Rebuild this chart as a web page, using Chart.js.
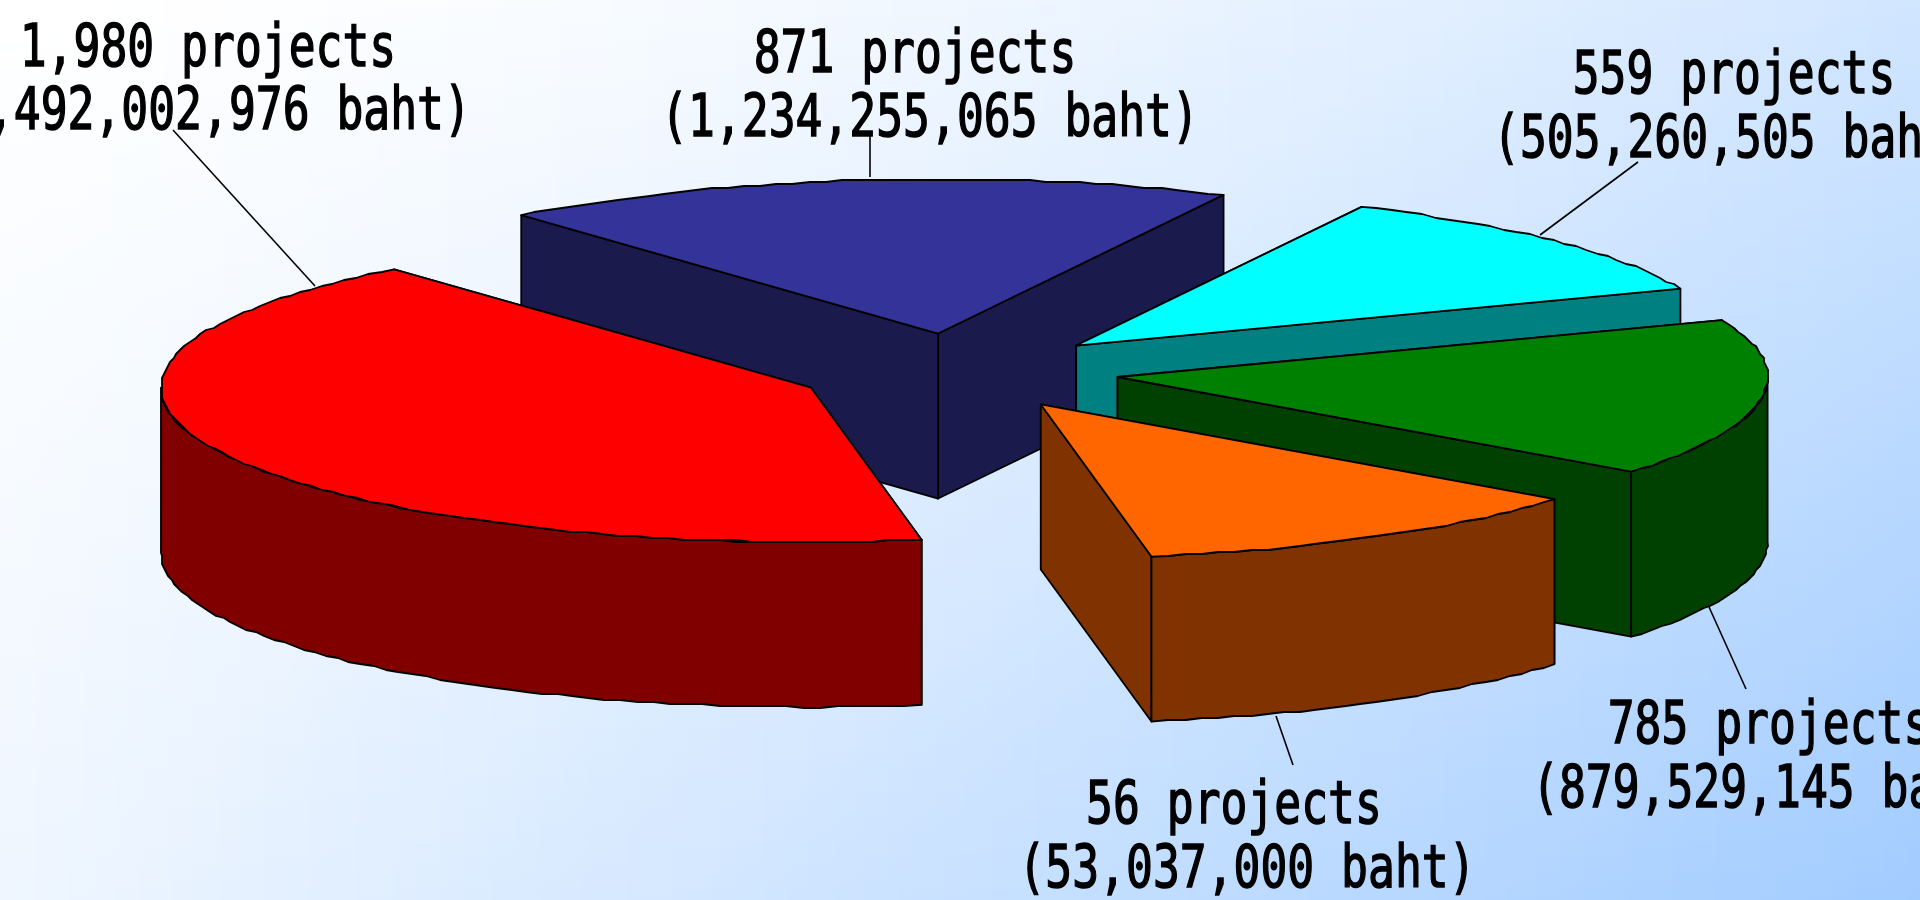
<!DOCTYPE html>
<html>
<head>
<meta charset="utf-8">
<title>Projects and budget</title>
<style>
  html, body { margin:0; padding:0; width:1920px; height:900px; overflow:hidden; background:#fff; }
  #wrap { width:1920px; height:900px; }
</style>
<script src="https://cdn.jsdelivr.net/npm/chart.js@4/dist/chart.umd.min.js"></script>
</head>
<body>
<div id="wrap"><canvas id="chart"></canvas></div>
<script>
// Data (the orange slice is drawn far bigger than its "56" label)
const categories = ["1,980 projects", "871 projects", "559 projects", "785 projects", "56 projects"];
const sliceValues = [1980, 871, 559, 785, 560];
const bahtLabels = ["(2,492,002,976 baht)", "(1,234,255,065 baht)", "(505,260,505 baht)", "(879,529,145 baht)", "(53,037,000 baht)"];
const topColors = ["#ff0000", "#333399", "#00ffff", "#008000", "#ff6600"];
const sideColors = ["#800000", "#1a1a4d", "#008080", "#004000", "#803300"];

// Layout of the 3D look
const CENTER_X = 957.6, CENTER_Y = 371.6;
const RADIUS_X = 650, RADIUS_Y = 154.3, DEPTH = 165;
const EXPLODE = 0.2486;               // share of the radius
const DRAW_ORDER = [1, 2, 3, 0, 4];   // back to front
const RIM_STEP = 1.5 * Math.PI / 180; // the rim in the original is a rough polygon
const RIM_GRID = 2;

// Label layout: [centre x line 1, baseline 1, centre x line 2, baseline 2]
const labelPos = [
  [208, 66, 202, 129],
  [915, 72, 930, 136],
  [1734, 93, 1735, 157],
  [1769, 743, 1774, 807],
  [1234, 823, 1247, 887]
];
// Leader lines: label end, slice end
const leaders = [
  [173, 130, 315, 286],
  [870, 135, 870, 177],
  [1638, 162, 1540, 235],
  [1746, 689, 1709, 607],
  [1293, 765, 1276, 716]
];

// Follow the rim from a0 to a1 with short snapped segments
function rimTo(ctx, ax, ay, a0, a1) {
  const n = Math.max(1, Math.round(Math.abs(a1 - a0) / RIM_STEP));
  for (let k = 0; k <= n; k++) {
    const a = a0 + (a1 - a0) * k / n;
    let px = ax + Math.cos(a) * RADIUS_X, py = ay + Math.sin(a) * RADIUS_Y;
    if (k > 0 && k < n) {
      px = Math.round(px / RIM_GRID) * RIM_GRID;
      py = Math.round(py / RIM_GRID) * RIM_GRID;
    }
    ctx.lineTo(px, py);
  }
}

function drawSlice(ctx, arc, i) {
  const {x, y, startAngle, endAngle, outerRadius} = arc.getProps(["x", "y", "startAngle", "endAngle", "outerRadius"], true);
  const mid = (startAngle + endAngle) / 2;
  const dx = Math.cos(mid) * EXPLODE * outerRadius;
  const dy = Math.sin(mid) * EXPLODE * outerRadius;
  const sx = RADIUS_X / outerRadius, sy = RADIUS_Y / outerRadius;
  const ax = CENTER_X + dx * sx, ay = CENTER_Y + dy * sy;

  ctx.lineWidth = 1.8;
  ctx.strokeStyle = "#000";
  ctx.lineJoin = "round";
  ctx.fillStyle = sideColors[i];

  // Straight walls, the one further back first
  const ends = [startAngle, endAngle].sort((a, b) => Math.sin(a) - Math.sin(b));
  ends.forEach(a => {
    const px = ax + Math.cos(a) * RADIUS_X, py = ay + Math.sin(a) * RADIUS_Y;
    ctx.beginPath();
    ctx.moveTo(ax, ay);
    ctx.lineTo(px, py);
    ctx.lineTo(px, py + DEPTH);
    ctx.lineTo(ax, ay + DEPTH);
    ctx.closePath();
    ctx.fill();
    ctx.stroke();
  });

  // Outer wall: only the part facing the viewer
  [0, 2 * Math.PI].forEach(k => {
    const a0 = Math.max(startAngle, k), a1 = Math.min(endAngle, k + Math.PI);
    if (a1 <= a0) return;
    ctx.beginPath();
    rimTo(ctx, ax, ay, a0, a1);
    rimTo(ctx, ax, ay + DEPTH, a1, a0);
    ctx.closePath();
    ctx.fill();
    ctx.stroke();
  });

  // Top face: the library's own arc, squashed, inside the rough rim
  const topPath = () => {
    ctx.beginPath();
    ctx.moveTo(ax, ay);
    rimTo(ctx, ax, ay, startAngle, endAngle);
    ctx.closePath();
  };
  ctx.save();
  topPath();
  ctx.fillStyle = topColors[i];
  ctx.fill();
  ctx.clip();
  ctx.translate(CENTER_X, CENTER_Y);
  ctx.scale(sx, sy);
  ctx.translate(dx - x, dy - y);
  arc.draw(ctx);
  ctx.restore();

  topPath();
  ctx.stroke();
}

function drawLabel(ctx, text, cx, baseline) {
  ctx.save();
  ctx.translate(cx, baseline);
  ctx.scale(0.757, 1);
  ctx.fillText(text, 0, 0);
  ctx.strokeText(text, 0, 0);
  ctx.restore();
}

// Background: white top left, light blue bottom right, pale along the left edge
function mixBlue(t) {
  return `rgb(${Math.round(255 - 93 * t)},${Math.round(255 - 51 * t)},255)`;
}

const pie3d = {
  id: "pie3d",
  beforeDraw(chart) {
    const ctx = chart.ctx, w = chart.width, h = chart.height;
    for (let px = 0; px < w; px += 4) {
      const u = (px + 2) / w;
      const g = ctx.createLinearGradient(0, 0, 0, h);
      g.addColorStop(0, mixBlue(0.5 * Math.pow(u, 1.6)));
      g.addColorStop(1, mixBlue(0.17 + 0.83 * u));
      ctx.fillStyle = g;
      ctx.fillRect(px, 0, 4, h);
    }
  },
  beforeDatasetsDraw(chart) {
    const ctx = chart.ctx;
    const arcs = chart.getDatasetMeta(0).data;
    ctx.save();
    DRAW_ORDER.forEach(i => drawSlice(ctx, arcs[i], i));
    ctx.restore();
    return false;
  },
  afterDraw(chart) {
    const ctx = chart.ctx;
    ctx.save();
    ctx.strokeStyle = "#000";
    ctx.lineWidth = 1.6;
    leaders.forEach(l => {
      ctx.beginPath();
      ctx.moveTo(l[0], l[1]);
      ctx.lineTo(l[2], l[3]);
      ctx.stroke();
    });
    ctx.font = '59px "DejaVu Sans Mono"';
    ctx.textAlign = "center";
    ctx.textBaseline = "alphabetic";
    ctx.fillStyle = "#000";
    ctx.lineWidth = 1.5;
    categories.forEach((c, i) => {
      const p = labelPos[i];
      drawLabel(ctx, c, p[0], p[1]);
      drawLabel(ctx, bahtLabels[i], p[2], p[3]);
    });
    ctx.restore();
  }
};

new Chart(document.getElementById("chart"), {
  type: "pie",
  data: {
    labels: categories,
    datasets: [{
      data: sliceValues,
      backgroundColor: topColors,
      borderWidth: 0
    }]
  },
  options: {
    responsive: true,
    maintainAspectRatio: false,
    animation: false,
    rotation: 170.2,
    layout: { padding: 0 },
    plugins: { legend: { display: false }, tooltip: { enabled: false } }
  },
  plugins: [pie3d]
});
</script>
</body>
</html>
